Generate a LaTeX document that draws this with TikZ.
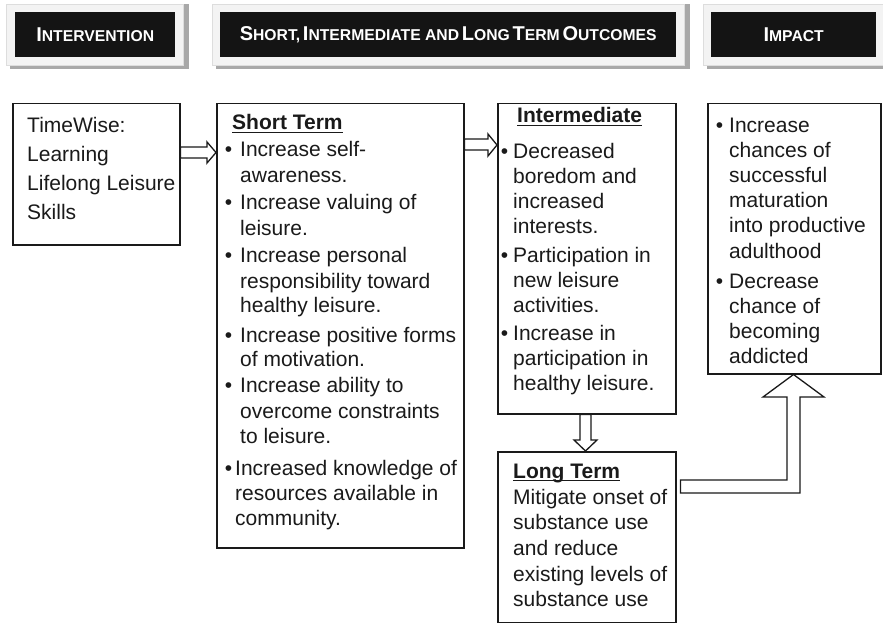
\documentclass[tikz,border=0pt]{standalone}
\usepackage{fontspec}
\setmainfont{Liberation Sans}
\usetikzlibrary{calc}
\definecolor{ink}{HTML}{1A1A1A}
\definecolor{hdrbg}{HTML}{F3F3F3}
\definecolor{hdrline}{HTML}{DDDDDD}
\definecolor{shadowc}{HTML}{A8A8A8}
\definecolor{hdrblack}{HTML}{141414}
\newcommand\hcB[1]{{\fontsize{20}{20}\selectfont #1}}
\newcommand\hcS[1]{{\fontsize{15.7}{15.7}\selectfont #1}}
\newcommand\bul[1]{\leavevmode\llap{\textbullet\hspace{#1}}}
\tikzset{
  box/.style={draw=ink, line width=1.5pt, fill=white, inner sep=0pt, anchor=north west},
  txt/.style={inner sep=0pt, anchor=base west, text=ink},
  blk/.style={fill=hdrblack, draw=none, inner sep=0pt, anchor=north west, text=white, font=\bfseries},
  frame/.style={fill=hdrbg, draw=hdrline, line width=0.6pt},
  shad/.style={fill=shadowc, draw=none},
  arr/.style={draw=ink, line width=1.3pt, fill=white, line join=miter},
  uline/.style={draw=ink, line width=1.4pt},
}
\begin{document}
\begin{tikzpicture}[x=1pt,y=-1pt]
\useasboundingbox (0,0) rectangle (883,623);
\clip (0,0) rectangle (883,623);
\fill[white] (0,0) rectangle (883,623);
% header frames
\fill[shad] (10,4) rectangle (189,69);
\filldraw[frame] (6,4) rectangle (183,65);
\fill[shad] (216,4) rectangle (690,69);
\filldraw[frame] (212,4) rectangle (684,65);
\fill[shad] (707,4) rectangle (892,69);
\filldraw[frame] (703,4) rectangle (887,65);
\node[blk, minimum width=160pt, minimum height=45pt] (h1) at (15,12)
  {\hcB{I}\hcS{NTERVENTION}};
\node[blk, minimum width=456pt, minimum height=45pt] (h2) at (220,12)
  {\hcB{S}\hcS{HORT,} \hcB{I}\hcS{NTERMEDIATE AND} \hcB{L}\hcS{ONG} \hcB{T}\hcS{ERM} \hcB{O}\hcS{UTCOMES}};
\node[blk, minimum width=165pt, minimum height=45pt] (h3) at (711,12)
  {\hcB{I}\hcS{MPACT}};
% boxes
\node[box, minimum width=167pt, minimum height=141pt] (tw) at (12,103) {};
\node[box, minimum width=247pt, minimum height=444pt] (st) at (216,103) {};
\node[box, minimum width=178pt, minimum height=310pt] (im) at (497,103) {};
\node[box, minimum width=178pt, minimum height=171pt] (lt) at (497,451) {};
\node[box, minimum width=173pt, minimum height=270pt] (imp) at (707,103) {};
% texts
\node[txt] (twt) at (27,132) {\begin{minipage}[t]{160pt}\raggedright\fontsize{21}{29}\selectfont
TimeWise:\\Learning\\Lifelong Leisure\\Skills\end{minipage}};
\node[txt, font=\fontsize{21}{25}\selectfont\bfseries] (stt) at (232,130) {Short Term};
\draw[uline] ([yshift=-2.5pt]stt.base west) -- ([yshift=-2.5pt]stt.base east);
\node[txt] (stb) at (240,157) {\begin{minipage}[t]{230pt}\raggedright\fontsize{21}{25}\selectfont
\bul{8pt}Increase self-\\awareness.\\[3pt]
\bul{8pt}Increase valuing of\\leisure.\\[3pt]
\bul{8pt}Increase personal\\responsibility toward\\healthy leisure.\\[4pt]
\bul{8pt}Increase positive forms\\of motivation.\\[1pt]
\bul{8pt}Increase ability to\\overcome constraints\\to leisure.\\[7pt]
\hspace*{-5pt}\bul{3pt}Increased knowledge of\\\hspace*{-5pt}resources available in\\\hspace*{-5pt}community.\end{minipage}};
\node[txt, font=\fontsize{21}{25}\selectfont\bfseries] (imt) at (517,123) {Intermediate};
\draw[uline] ([yshift=-2.5pt]imt.base west) -- ([yshift=-2.5pt]imt.base east);
\node[txt] (imb) at (513,158) {\begin{minipage}[t]{170pt}\raggedright\fontsize{21}{25}\selectfont
\bul{5pt}Decreased\\boredom and\\increased\\interests.\\[4pt]
\bul{5pt}Participation in\\new leisure\\activities.\\[3pt]
\bul{5pt}Increase in\\participation in\\healthy leisure.\end{minipage}};
\node[txt, font=\fontsize{21}{25}\selectfont\bfseries] (ltt) at (513,478) {Long Term};
\draw[uline] ([yshift=-2.5pt]ltt.base west) -- ([yshift=-2.5pt]ltt.base east);
\node[txt] (ltb) at (513,504) {\begin{minipage}[t]{170pt}\raggedright\fontsize{21}{25.7}\selectfont
Mitigate onset of\\substance use\\and reduce\\existing levels of\\substance use\end{minipage}};
\node[txt] (impb) at (729,132) {\begin{minipage}[t]{160pt}\raggedright\fontsize{21}{25.2}\selectfont
\bul{6pt}Increase\\chances of\\successful\\maturation\\into productive\\adulthood\\[4.8pt]
\bul{6pt}Decrease\\chance of\\becoming\\addicted\end{minipage}};
% connectors
\draw[arr] (tw.east |- 0,147) -- (207,147) -- (207,142) -- (st.west |- 0,152.5)
  -- (207,163) -- (207,158) -- (tw.east |- 0,158) -- cycle;
\draw[arr] (st.east |- 0,139) -- (488,139) -- (488,134) -- (im.west |- 0,145)
  -- (488,156) -- (488,150) -- (st.east |- 0,150) -- cycle;
\draw[arr] (580,0 |- im.south) -- (580,440) -- (574,440) -- (585.5,0 |- lt.north)
  -- (597,440) -- (591,440) -- (591,0 |- im.south) -- cycle;
\draw[arr] ([xshift=4pt]lt.east |- 0,480) -- (787,480) -- (787,397) -- (763,397)
  -- (793.5,0 |- imp.south) -- (824,397) -- (800,397) -- (800,493)
  -- ([xshift=4pt]lt.east |- 0,493) -- cycle;
\end{tikzpicture}
\end{document}
